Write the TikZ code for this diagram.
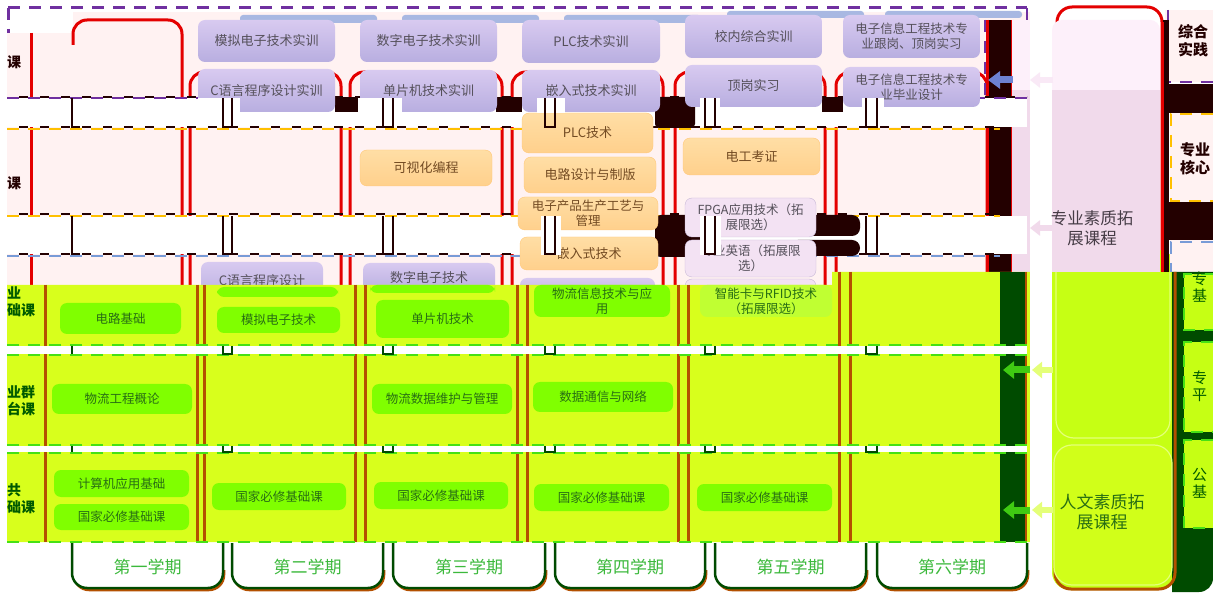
\documentclass[tikz,border=0pt]{standalone}
\usepackage{fontspec}
\newfontfamily\cjk{Noto Sans CJK SC}
\usetikzlibrary{arrows.meta}
\definecolor{pinkbg}{RGB}{255,242,242}
\definecolor{limeA}{RGB}{216,255,28}
\definecolor{limeR}{RGB}{198,255,20}
\definecolor{limeE}{RGB}{228,255,120}
\definecolor{gfill}{RGB}{128,255,0}
\definecolor{gfill2}{RGB}{192,255,50}
\definecolor{gtext}{RGB}{40,110,20}
\definecolor{redl}{RGB}{228,0,0}
\definecolor{brownl}{RGB}{180,80,0}
\definecolor{blk}{RGB}{35,0,0}
\definecolor{dgreen}{RGB}{0,75,0}
\definecolor{ptop}{RGB}{216,202,240}
\definecolor{pbot}{RGB}{184,174,224}
\definecolor{ghost}{RGB}{168,184,226}
\definecolor{tgray}{RGB}{85,80,90}
\definecolor{otop}{RGB}{255,222,165}
\definecolor{obot}{RGB}{255,208,140}
\definecolor{oedge}{RGB}{255,200,120}
\definecolor{otext}{RGB}{115,75,35}
\definecolor{lavf}{RGB}{243,226,243}
\definecolor{lavb}{RGB}{200,185,215}
\definecolor{purd}{RGB}{112,48,160}
\definecolor{orangd}{RGB}{255,192,0}
\definecolor{blued}{RGB}{120,155,215}
\definecolor{greend}{RGB}{70,225,20}
\definecolor{semg}{RGB}{60,185,60}
\definecolor{rlight}{RGB}{253,240,250}
\definecolor{rpink}{RGB}{241,218,235}
\definecolor{arrowblue}{RGB}{110,130,210}
\definecolor{rtext}{RGB}{70,60,70}
\definecolor{labg}{RGB}{0,90,0}
\newcommand\cbox[7]{\node[#1,minimum width={#4-#2},minimum height={#5-#3}] (#6) at ({(#2+#4)/2},{(#3+#5)/2}) {#7};}
\tikzset{
  fa/.style={font=\cjk\fontsize{12.5}{15}\selectfont},
  fb/.style={font=\cjk\fontsize{13}{15.5}\selectfont},
  pbox/.style={rounded corners=7pt, top color=ptop, bottom color=pbot, text=tgray, align=center, inner sep=0pt, fb},
  pbox2/.style={pbox, fa},
  obox/.style={rounded corners=7pt, top color=otop, bottom color=obot, draw=oedge, text=otext, align=center, inner sep=0pt, fb},
  obox2/.style={obox, fa},
  lbox/.style={rounded corners=7pt, fill=lavf, draw=lavb, text=tgray, align=center, inner sep=0pt, fa},
  gbox/.style={rounded corners=7pt, fill=gfill, text=gtext, align=center, inner sep=0pt, fa},
  gbox2/.style={gbox, fill=gfill2},
  redcol/.style={draw=redl, line width=3pt, rounded corners=14pt},
  dsh/.style={line width=2.5pt, dash pattern=on 12pt off 9pt},
  dshk/.style={blk, line width=1.8pt, dash pattern=on 9pt off 12pt, dash phase=9pt},
  rowlab/.style={font=\cjk\bfseries\fontsize{14}{17}\selectfont, inner sep=0pt, anchor=west, align=left},
  semlab/.style={font=\cjk\fontsize{17}{20}\selectfont, text=semg, inner sep=0pt},
  tick/.style={line width=2.2pt}
}
\begin{document}
\begin{tikzpicture}[x=1pt,y=-1pt]
\useasboundingbox (0,0) rectangle (1213,593);
\fill[white] (0,0) rectangle (1213,593);
% pink top background
\fill[pinkbg] (7,12) rectangle (1030,285);
\fill[white] (7,12) rectangle (73,33);
% red column outlines (upper)
\draw[redcol] (73,45) -- (73,20) -- (182,20) -- (182,285);
\draw[redl,line width=3pt] (31,33) -- (31,285);
\foreach \l/\r in {190/341,350/502,512/663,675/825,836/987}
  \draw[redcol] (\l,285) -- (\l,72) -- (\r,72) -- (\r,285);
% black band right of the grid
\fill[blk] (987,20) rectangle (1012,272);
\draw[redl,line width=3pt] (987,20) -- (987,272);
\draw[redl,line width=3pt] (1012,20) -- (1012,272);
% right panel upper part
\fill[rlight] (1012,20) rectangle (1030,90);
\fill[rpink] (1012,90) rectangle (1030,272);
\draw[redcol,rounded corners=15pt] (1057,60) -- (1057,7) -- (1162,7) -- (1162,272);
\fill[limeR,rounded corners=18pt] (1052,250) rectangle (1176,590);
\fill[rlight,rounded corners=10pt] (1052,20) rectangle (1160,120);
\fill[rpink] (1052,90) rectangle (1160,272);
\draw[limeE,line width=1.2pt,rounded corners=18pt] (1056,272) -- (1056,438) -- (1170,438) -- (1170,272);
% right column strip
\fill[pinkbg] (1165,10) rectangle (1213,82);
\draw[purd,dsh] (1168,10) -- (1168,82) -- (1213,82);
\fill[blk] (1163,20) rectangle (1169,272);
\fill[blk] (1163,84) rectangle (1213,113);
\fill[pinkbg] (1170,113) rectangle (1213,202);
\draw[orangd,dsh] (1213,114) -- (1171,114) -- (1171,201) -- (1213,201);
\fill[blk] (1163,202) rectangle (1213,240);
\fill[pinkbg] (1170,240) rectangle (1213,272);
\draw[blued,dsh] (1213,242) -- (1171,242) -- (1171,272);
\draw[redl,line width=3pt] (1162,22) -- (1162,272);
\fill[dgreen] (1172,272) -- (1213,272) [rounded corners=14pt] -- (1213,592) [sharp corners] -- (1172,592) -- cycle;
\foreach \a/\b in {274/330,342/432,440/528}{
  \fill[limeR] (1184,\a) rectangle (1213,\b);
  \draw[greend,dsh,line width=2pt] (1213,\a) -- (1184,\a) -- (1184,\b) -- (1213,\b);
}
\draw[brownl,line width=3pt,rounded corners=16pt] (1175,272) -- (1175,589) -- (1055,589) -- (1055,560);
% row-3 purple boxes, cut by the green area
\cbox{pbox}{201}{262}{323}{300}{cc}{C语言程序设计}
\cbox{pbox}{363}{263}{495}{292}{sz}{数字电子技术}
\cbox{pbox}{520}{278}{655}{300}{wl}{}
\cbox{lbox}{685}{279}{816}{300}{zn}{}
% green lower background
\fill[limeA] (7,285) -- (832,285) -- (832,272) -- (1030,272) -- (1030,542) -- (7,542) -- cycle;
\foreach \x in {45,197,204,355,365,517,527,678,688}
  \draw[brownl,line width=3pt] (\x,285) -- (\x,542);
\foreach \x in {839,850}
  \draw[brownl,line width=3pt] (\x,272) -- (\x,542);
\fill[dgreen] (1000,272) rectangle (1025,542);
\draw[brownl,line width=2.5pt] (1026,272) -- (1026,560);
% white bands
\fill[white] (7,98) rectangle (1027,127);
\fill[white] (7,216) rectangle (1027,254);
\fill[white] (7,346) rectangle (1027,354);
\fill[white] (7,446) rectangle (1027,452);
% dashed lines
\draw[purd,dsh,line width=3pt] (8,8) -- (1027,8);
\draw[purd,dsh,line width=3pt] (8,8) -- (8,33);
\draw[purd,dsh] (1027,8) -- (1027,20);
\draw[purd,dsh] (985,20) -- (985,97);
\draw[purd,dsh] (7,98) -- (1027,98);
\draw[dshk] (7,97) -- (1027,97);
\draw[orangd,dsh] (7,129) -- (1000,129);
\draw[dshk] (7,127) -- (1000,127);
\draw[orangd,dsh] (7,216) -- (1000,216);
\draw[dshk] (7,214) -- (1000,214);
\draw[blued,dsh] (7,256) -- (1000,256);
\draw[dshk] (7,254) -- (1000,254);
\foreach \y in {345,355,445,453,542}
  \draw[greend,dsh] (7,\y) -- (1027,\y);
% black blobs
\fill[blk] (335,97) rectangle (360,112);
\fill[blk] (496,97) rectangle (522,112);
\fill[blk,rounded corners=4pt] (655,97) rectangle (695,128);
\fill[blk] (822,97) rectangle (843,112);
\fill[blk,rounded corners=6pt] (655,215) rectangle (700,257);
\fill[blk,rounded corners=8pt] (790,215) rectangle (860,236);
\fill[blk,rounded corners=8pt] (790,240) rectangle (860,256);
% ghost boxes
\foreach \a in {240,402,564}
  \fill[ghost,rounded corners=3pt] (\a,15) rectangle (\a+137,23);
\foreach \a in {727,885}
  \fill[ghost,rounded corners=3pt] (\a,11) rectangle (\a+137,18);
% purple training boxes
\cbox{pbox}{198}{20}{335}{62}{mn}{模拟电子技术实训}
\cbox{pbox}{360}{20}{497}{62}{sd}{数字电子技术实训}
\cbox{pbox}{522}{20}{660}{63}{plcs}{PLC技术实训}
\cbox{pbox}{685}{15}{822}{58}{xn}{校内综合实训}
\cbox{pbox2}{843}{15}{980}{58}{gg}{电子信息工程技术专\\业跟岗、顶岗实习}
\cbox{pbox}{198}{69}{335}{112}{cy}{C语言程序设计实训}
\cbox{pbox}{360}{70}{497}{112}{dp}{单片机技术实训}
\cbox{pbox}{522}{70}{660}{112}{qr}{嵌入式技术实训}
\cbox{pbox}{685}{65}{822}{107}{dg}{顶岗实习}
\cbox{pbox2}{843}{67}{980}{107}{by}{电子信息工程技术专\\业毕业设计}
% orange core boxes
\cbox{obox}{360}{150}{492}{186}{ks}{可视化编程}
\cbox{obox}{522}{113}{653}{153}{plc}{PLC技术}
\cbox{obox}{524}{157}{656}{193}{dl}{电路设计与制版}
\cbox{obox2}{518}{197}{658}{230}{cp}{电子产品生产工艺与\\管理}
\cbox{obox}{520}{237}{658}{270}{qs}{嵌入式技术}
\cbox{obox}{683}{138}{820}{175}{dk}{电工考证}
% lavender elective boxes
\cbox{lbox}{685}{198}{816}{237}{fp}{FPGA应用技术（拓\\展限选）}
\cbox{lbox}{685}{240}{816}{277}{yy}{专业英语（拓展限\\选）}
% green boxes
\cbox{gbox}{217}{287}{338}{297}{ccg}{}
\cbox{gbox}{370}{285}{495}{293}{szg}{}
\cbox{gbox}{60}{303}{181}{334}{dj}{电路基础}
\cbox{gbox}{217}{307}{340}{333}{mj}{模拟电子技术}
\cbox{gbox}{376}{300}{509}{338}{dpj}{单片机技术}
\cbox{gbox}{534}{285}{670}{317}{wx}{物流信息技术与应\\用}
\cbox{gbox2}{700}{285}{832}{317}{rf}{智能卡与RFID技术\\（拓展限选）}
\cbox{gbox}{52}{384}{192}{414}{wg}{物流工程概论}
\cbox{gbox}{372}{384}{512}{414}{ws}{物流数据维护与管理}
\cbox{gbox}{533}{382}{673}{412}{sj}{数据通信与网络}
\cbox{gbox}{54}{470}{189}{497}{jsj}{计算机应用基础}
\cbox{gbox}{54}{504}{189}{530}{gj1}{国家必修基础课}
\cbox{gbox}{212}{483}{346}{510}{gj2}{国家必修基础课}
\cbox{gbox}{374}{482}{508}{509}{gj3}{国家必修基础课}
\cbox{gbox}{534}{484}{669}{511}{gj4}{国家必修基础课}
\cbox{gbox}{697}{484}{832}{511}{gj5}{国家必修基础课}
% white gaps round the column ticks
\fill[white] (198,98) rectangle (240,113);
\fill[white] (358,98) rectangle (402,113);
\fill[white] (537,98) rectangle (565,113);
\fill[white] (700,98) rectangle (720,110);
\fill[white] (862,98) rectangle (884,110);
\fill[white] (541,216) rectangle (561,255);
\fill[white] (700,216) rectangle (721,255);
% column ticks in the white bands
\foreach \a/\b in {223/232,383/393,545/555,705/715,866/877}{
  \draw[blk,tick] (\a,98) -- (\a,127) -- (\b,127) -- (\b,98);
  \draw[blk,tick] (\a,216) -- (\a,254) -- (\b,254) -- (\b,216);
  \draw[dgreen,tick] (\a,346) -- (\a,354) -- (\b,354) -- (\b,346);
  \draw[dgreen,tick] (\a,446) -- (\a,452) -- (\b,452) -- (\b,446);
}
\draw[blk,tick] (72,98) -- (72,127) -- (80,127);
\draw[blk,tick] (72,216) -- (72,254) -- (80,254);
\draw[dgreen,tick] (72,346) -- (72,354);
\draw[dgreen,tick] (72,446) -- (72,452);
% semester tabs
\foreach \l/\r/\t [count=\i] in {72/223/第一学期,232/383/第二学期,393/545/第三学期,555/705/第四学期,715/866/第五学期,877/1027/第六学期}{
  \draw[brownl,line width=2.5pt,rounded corners=15pt] (\l+2,570) -- (\l+2,590) -- (\r+1,590) -- (\r+1,570);
  \draw[dgreen,line width=2.5pt,fill=white,rounded corners=15pt] (\l,543) -- (\l,588) -- (\r,588) -- (\r,543);
  \node[semlab] (tab\i) at ({(\l+\r)/2},567) {\t};
}
% white strip and arrows
\fill[white] (1030,0) rectangle (1052,593);
\coordinate (ab1) at (1013,80);  \coordinate (ab2) at (988,80);
\coordinate (ap1) at (1053,80);  \coordinate (ap2) at (1030,80);
\coordinate (aq1) at (1053,228); \coordinate (aq2) at (1030,228);
\coordinate (ag1) at (1030,370); \coordinate (ag2) at (1003,370);
\coordinate (al1) at (1053,370); \coordinate (al2) at (1032,370);
\coordinate (ah1) at (1030,510); \coordinate (ah2) at (1003,510);
\coordinate (am1) at (1053,510); \coordinate (am2) at (1032,510);
\draw[arrowblue,line width=7pt,-{Triangle[length=12pt,width=17pt]}] (ab1) -- (ab2);
\draw[rlight!70!rpink,line width=6pt,-{Triangle[length=10pt,width=15pt]}] (ap1) -- (ap2);
\draw[rpink,line width=6pt,-{Triangle[length=10pt,width=15pt]}] (aq1) -- (aq2);
\draw[greend!90!black,line width=7pt,-{Triangle[length=11pt,width=17pt]}] (ag1) -- (ag2);
\draw[limeE,line width=6pt,-{Triangle[length=10pt,width=16pt]}] (al1) -- (al2);
\draw[greend!90!black,line width=7pt,-{Triangle[length=11pt,width=17pt]}] (ah1) -- (ah2);
\draw[limeE,line width=6pt,-{Triangle[length=10pt,width=16pt]}] (am1) -- (am2);
% right panel texts
\fill[limeA!60!limeR,rounded corners=18pt] (1054,445) rectangle (1172,585);
\draw[limeE,line width=1.2pt,rounded corners=18pt] (1054,445) rectangle (1172,585);
\node[font=\cjk\fontsize{16.5}{20}\selectfont,text=rtext,align=center,inner sep=0pt] (zy) at (1092,228) {专业素质拓\\展课程};
\node[font=\cjk\fontsize{17}{20}\selectfont,text=gtext,align=center,inner sep=0pt] (rw) at (1102,512) {人文素质拓\\展课程};
% row labels (cut at the left edge)
\node[rowlab,text=blk] (r1) at (7,62) {课};
\node[rowlab,text=blk] (r2) at (7,183) {课};
\node[rowlab,text=labg] (r3) at (7,302) {业\\础课};
\node[rowlab,text=labg] (r4) at (7,401) {业群\\台课};
\node[rowlab,text=labg] (r5) at (7,499) {共\\础课};
% right column labels (cut at the right edge)
\node[rowlab,text=blk,font=\cjk\bfseries\fontsize{15}{18}\selectfont] (k1) at (1178,41) {综合\\实践};
\node[rowlab,text=blk,font=\cjk\bfseries\fontsize{15}{18}\selectfont] (k2) at (1180,159) {专业\\核心};
\node[rowlab,text=labg,font=\cjk\fontsize{15}{17}\selectfont] (k3) at (1192,287) {专\\基};
\node[rowlab,text=labg,font=\cjk\fontsize{15}{17}\selectfont] (k4) at (1192,386) {专\\平};
\node[rowlab,text=labg,font=\cjk\fontsize{15}{17}\selectfont] (k5) at (1192,483) {公\\基};
\end{tikzpicture}
\end{document}
